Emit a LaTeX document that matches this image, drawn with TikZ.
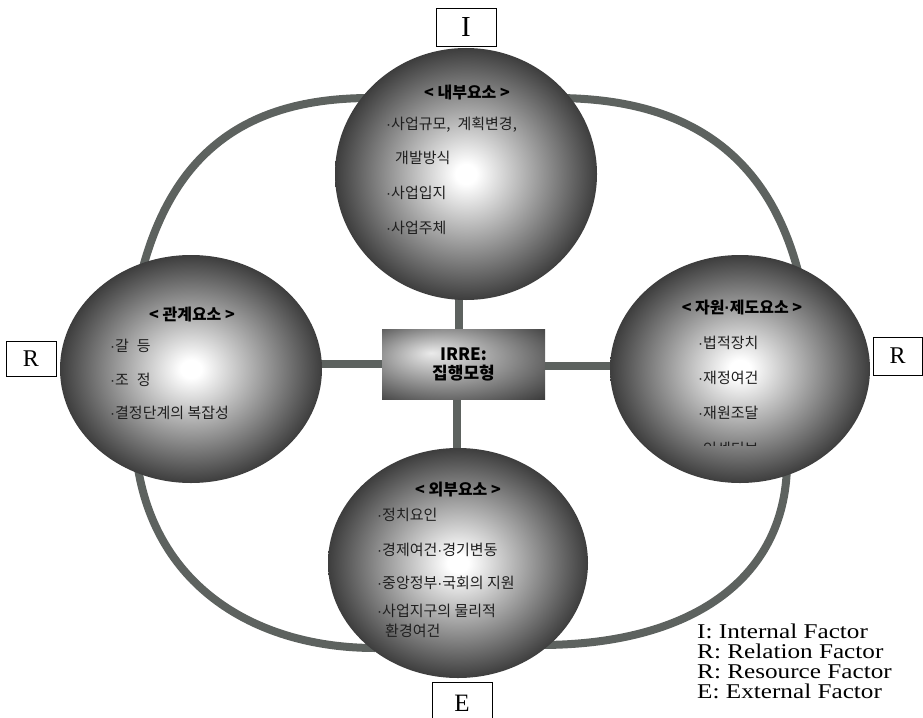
\documentclass[tikz,border=0pt]{standalone}
\usepackage{fontspec}
\setmainfont{Liberation Serif}
\newfontfamily\kr{Noto Sans CJK KR}
\newfontfamily\dotfont{Liberation Sans}
\newfontfamily\legfont[FakeStretch=1.2]{Liberation Serif}
\newcommand\mdt{{\dotfont ·}}
\usetikzlibrary{shapes.geometric,backgrounds,calc}
\definecolor{ringgray}{RGB}{93,98,95}
\pgfdeclareradialshading{ballshade}{\pgfpoint{0bp}{0bp}}{color(0bp)=(white); color(2bp)=(white); color(25bp)=(black!76); color(50bp)=(black!76)}
\pgfdeclareradialshading{boxshade}{\pgfpoint{-10bp}{8bp}}{color(0bp)=(black!8); color(40bp)=(black!80); color(50bp)=(black!80)}
\tikzset{
  sphere/.style={ellipse, shading=ballshade, inner sep=0pt, outer sep=0pt},
  centerbox/.style={rectangle, shading=boxshade, inner sep=0pt, outer sep=0pt, align=center,
    font=\kr\bfseries\fontsize{17}{19}\selectfont, text=black},
  stub/.style={draw=ringgray, line width=7.5pt},
  ring/.style={draw=ringgray, line width=8pt},
  hd/.style={inner sep=0pt, font=\kr\bfseries\fontsize{16}{18}\selectfont, text=black},
  txt/.style={inner sep=0pt, anchor=west, font=\kr\fontsize{15}{17}\selectfont, text=black!88},
  lbox/.style={draw=black, line width=0.9pt, fill=white, inner sep=0pt},
  legline/.style={inner sep=0pt, anchor=base west, font=\legfont\fontsize{21}{21}\selectfont}
}
\begin{document}
\begin{tikzpicture}[x=1pt,y=-1pt]
\useasboundingbox (0,0) rectangle (923,717);
\clip (0,0) rectangle (923,717);
% spheres
\node[sphere, minimum width=262pt, minimum height=252pt] (I) at (466,174) {};
\node[sphere, minimum width=262pt, minimum height=228pt] (L) at (191,369) {};
\node[sphere, minimum width=260pt, minimum height=228pt] (Rs) at (740,369) {};
\node[sphere, minimum width=260pt, minimum height=230pt] (E) at (458,563) {};
% centre box
\node[centerbox, minimum width=163pt, minimum height=70pt] (C) at (463.5,364) {IRRE:\\집행모형};
% connectors behind
\begin{pgfonlayer}{background}
\draw[stub] ([xshift=-4.5pt]C.north) -- ([xshift=-4.5pt]C.north |- I.center);
\draw[stub] ([xshift=-6.5pt]C.south) -- ([xshift=-6.5pt]C.south |- E.center);
\draw[stub] (C.west) -- (C.west -| L.center);
\draw[stub] ([yshift=-2pt]C.east) -- ([yshift=-2pt]C.east -| Rs.center);
\draw[ring] ($(L.center)+(-50,-94)$) .. controls (175,140) and (260,97) .. ($(I.center)+(-91,-76)$);
\draw[ring] ($(I.center)+(89,-76)$) .. controls (670,98) and (765,140) .. ($(Rs.center)+(59,-94)$);
\draw[ring] ($(L.center)+(-54,93)$) .. controls (155,590) and (260,648) .. ($(E.center)+(-83,85)$);
\draw[ring] ($(Rs.center)+(47,96)$) .. controls (785,580) and (690,645) .. ($(E.center)+(82,82)$);
\end{pgfonlayer}
% top sphere text
\node[hd] (Ih) at (467,93) {< 내부요소 >};
\node[txt] (I1) at (386,125) {\mdt{}사업규모,\hspace{7pt}계획변경,};
\node[txt] (I2) at (395,158) {개발방식};
\node[txt] (I3) at (386,193) {\mdt{}사업입지};
\node[txt] (I4) at (386,228) {\mdt{}사업주체};
% left sphere text
\node[hd] (Lh) at (192,314) {< 관계요소 >};
\node[txt] (L1) at (110,346) {\mdt{}갈\hspace{8pt}등};
\node[txt] (L2) at (110,380) {\mdt{}조\hspace{8pt}정};
\node[txt] (L3) at (110,413) {\mdt{}결정단계의 복잡성};
% right sphere text
\node[hd] (Rh) at (742,308) {< 자원\mdt{}제도요소 >};
\node[txt] (R1) at (698,343) {\mdt{}법적장치};
\node[txt] (R2) at (698,378) {\mdt{}재정여건};
\node[txt] (R3) at (698,413) {\mdt{}재원조달};
\begin{scope}
\clip (690,430) rectangle (800,445.5);
\node[txt] (R4) at (698,449) {\mdt{}인센티브};
\end{scope}
% bottom sphere text
\node[hd] (Eh) at (458,490) {< 외부요소 >};
\node[txt] (E1) at (377,515) {\mdt{}정치요인};
\node[txt] (E2) at (377,550) {\mdt{}경제여건\mdt{}경기변동};
\node[txt] (E3) at (377,583) {\mdt{}중앙정부\mdt{}국회의 지원};
\node[txt] (E4) at (377,611) {\mdt{}사업지구의 물리적};
\node[txt] (E5) at (385,631) {환경여건};
% letter boxes
\node[lbox, minimum width=60pt, minimum height=38pt, font=\fontsize{29}{29}\selectfont] (bI) at (466,27) {I};
\node[lbox, minimum width=50pt, minimum height=35pt, font=\fontsize{24}{24}\selectfont] (bL) at (31,358.5) {R};
\node[lbox, minimum width=49pt, minimum height=38pt, font=\fontsize{24}{24}\selectfont] (bR) at (897.5,356) {R};
\node[lbox, minimum width=60pt, minimum height=42pt, font=\fontsize{25}{25}\selectfont, text depth=0pt] (bE) at (462,703) {E};
% legend
\node[legline] (g1) at (697,638) {I: Internal Factor};
\node[legline] (g2) at (697,658) {R: Relation Factor};
\node[legline] (g3) at (697,678) {R: Resource Factor};
\node[legline] (g4) at (697,698) {E: External Factor};
\end{tikzpicture}
\end{document}
